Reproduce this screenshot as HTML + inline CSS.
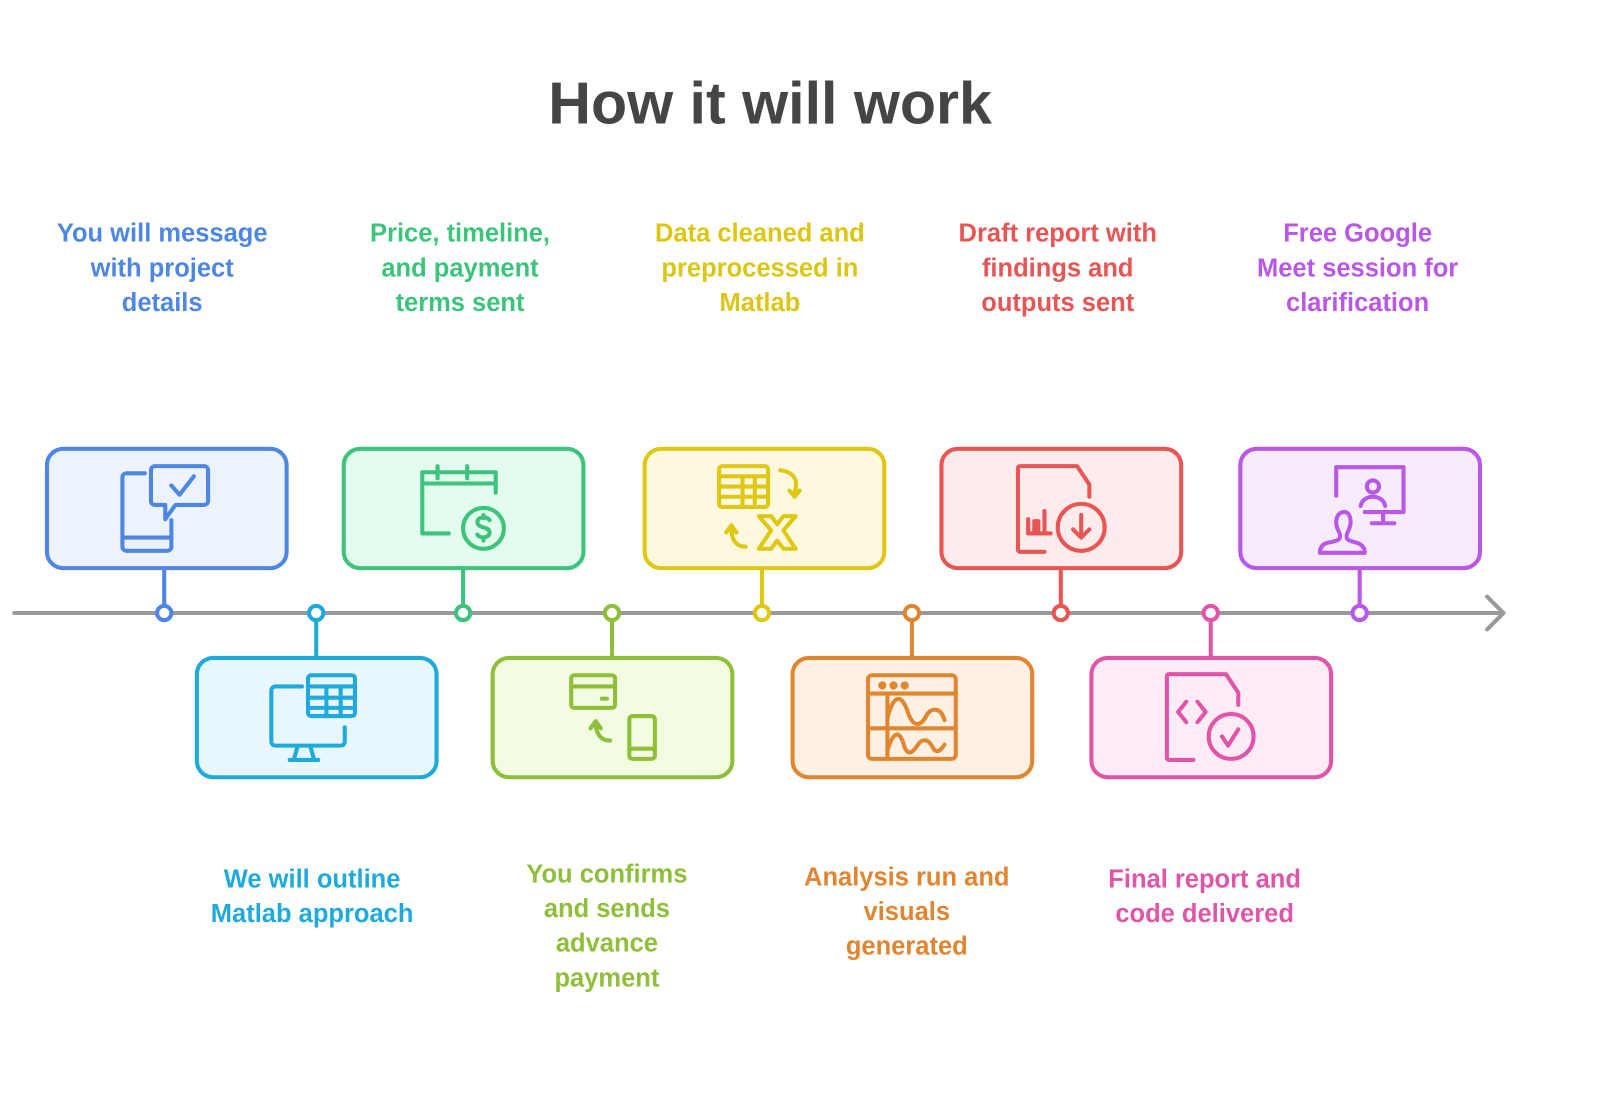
<!DOCTYPE html>
<html><head><meta charset="utf-8"><style>
body{margin:0;width:1600px;height:1107px;background:#fff;font-family:"Liberation Sans",sans-serif;overflow:hidden}
#w{position:absolute;left:0;top:0;width:1570px;height:1090px;transform:scale(1.02);transform-origin:0 0}
.t{position:absolute;font-weight:bold;font-size:25px;line-height:34px;text-align:center;width:260px}
h1{position:absolute;left:0;width:1510px;top:68px;margin:0;text-align:center;font-size:58px;color:#454545}
</style></head><body><div id="w">
<h1>How it will work</h1>
<div class="t" style="left:29px;top:212px;color:#4e86e4">You will message<br>with project<br>details</div>
<div class="t" style="left:321px;top:212px;color:#3cc47c">Price, timeline,<br>and payment<br>terms sent</div>
<div class="t" style="left:615px;top:212px;color:#dcc614">Data cleaned and<br>preprocessed in<br>Matlab</div>
<div class="t" style="left:907px;top:212px;color:#e85555">Draft report with<br>findings and<br>outputs sent</div>
<div class="t" style="left:1201px;top:212px;color:#b857e8">Free Google<br>Meet session for<br>clarification</div>
<div class="t" style="left:176px;top:845px;color:#1eaadc">We will outline<br>Matlab approach</div>
<div class="t" style="left:465px;top:840px;color:#8fbf3a">You confirms<br>and sends<br>advance<br>payment</div>
<div class="t" style="left:759px;top:843px;color:#e08530">Analysis run and<br>visuals<br>generated</div>
<div class="t" style="left:1051px;top:845px;color:#e055a8">Final report and<br>code delivered</div>
<svg width="1570" height="1090" style="position:absolute;left:0;top:0" fill="none" stroke-width="4" stroke-linecap="round" stroke-linejoin="round">
<line x1="14" y1="601" x2="1474" y2="601" stroke="#999" stroke-width="4"/>
<polyline points="1458,585 1474,601 1458,617" stroke="#999"/>
<g stroke="#4e86e4"><rect x="46" y="440" width="235" height="117" rx="16" fill="#edf3fe"/><line x1="161" y1="557" x2="161" y2="594"/><circle cx="161" cy="601" r="7" fill="#fff"/>
<path d="M142 464h-18a4 4 0 0 0-4 4v68a4 4 0 0 0 4 4h40a4 4 0 0 0 4-4v-26M120 527h48"/><path d="M152 457h48a4 4 0 0 1 4 4v30a4 4 0 0 1-4 4h-28l-10 14v-14h-10a4 4 0 0 1-4-4v-30a4 4 0 0 1 4-4z"/><polyline points="168,476 176,485 190,467"/></g>
<g stroke="#1eaadc"><rect x="193" y="645" width="235" height="117" rx="16" fill="#e8f7fd"/><line x1="310" y1="608" x2="310" y2="645"/><circle cx="310" cy="601" r="7" fill="#fff"/>
<path d="M296 673h-26a4 4 0 0 0-4 4v50a4 4 0 0 0 4 4h64a4 4 0 0 0 4-4v-14M292 731l-4 14M304 731l4 14M284 745h28"/><rect x="302" y="662" width="46" height="40" rx="3"/><path d="M302 673h46M302 684h46M302 694h46M320 673v29M334 673v29"/></g>
<g stroke="#3cc47c"><rect x="337" y="440" width="235" height="117" rx="16" fill="#e3fcee"/><line x1="454" y1="557" x2="454" y2="594"/><circle cx="454" cy="601" r="7" fill="#fff"/>
<path d="M440 523h-26v-60h72v20M414 474h72M429 457v12M458 457v12"/><circle cx="474" cy="518" r="20"/><path d="M480 510c-2-4-12-4-12 2s12 4 12 10-10 6-12 2M474 505v3M474 527v3"/></g>
<g stroke="#8fbf3a"><rect x="483" y="645" width="235" height="117" rx="16" fill="#f2fce0"/><line x1="600" y1="608" x2="600" y2="645"/><circle cx="600" cy="601" r="7" fill="#fff"/>
<rect x="560" y="662" width="43" height="32" rx="3"/><path d="M560 673h43M590 685h5"/><rect x="617" y="702" width="25" height="42" rx="3"/><path d="M617 734h25M598 726c-10 0-14-8-14-18M579 714l5-7 5 7"/></g>
<g stroke="#dec814"><rect x="632" y="440" width="235" height="117" rx="16" fill="#fef9de"/><line x1="747" y1="557" x2="747" y2="594"/><circle cx="747" cy="601" r="7" fill="#fff"/>
<rect x="705" y="457" width="48" height="40" rx="3"/><path d="M705 467h48M705 477h48M705 487h48M728 467v30M740 467v30M765 461c14 2 18 10 14 22M774 481l5 6 5-6M731 536c-10 0-14-8-14-18M712 522l5-7 5 7"/><path d="M744 506h12l6 8 6-8h12l-12 14 12 18h-12l-6-8-6 8h-12l12-18z"/></g>
<g stroke="#e08530"><rect x="777" y="645" width="235" height="117" rx="16" fill="#fef1e3"/><line x1="894" y1="608" x2="894" y2="645"/><circle cx="894" cy="601" r="7" fill="#fff"/>
<rect x="851" y="662" width="86" height="82" rx="4"/><path d="M851 680h86M851 714h86M870 680v64M870 704c6-24 14-24 20-6s14 12 18 4 14-10 18 4M870 736c6-20 12-20 16-6s10 6 14 0 10-6 14 2s8 4 12-2"/><circle cx="865" cy="672" r="2" fill="#e08530"/><circle cx="876" cy="672" r="2" fill="#e08530"/><circle cx="887" cy="672" r="2" fill="#e08530"/></g>
<g stroke="#e85555"><rect x="923" y="440" width="235" height="117" rx="16" fill="#fdeceb"/><line x1="1040" y1="557" x2="1040" y2="594"/><circle cx="1040" cy="601" r="7" fill="#fff"/>
<path d="M1024 541h-24a2 2 0 0 1-2-2v-80a2 2 0 0 1 2-2h56l12 18v12"/><path d="M1008 523v-14M1008 523h22M1014 523v-12h4v12M1024 523v-22"/><circle cx="1060" cy="517" r="23"/><path d="M1060 505v22M1052 519l8 8 8-8"/></g>
<g stroke="#e055a8"><rect x="1070" y="645" width="235" height="117" rx="16" fill="#fdebf6"/><line x1="1187" y1="608" x2="1187" y2="645"/><circle cx="1187" cy="601" r="7" fill="#fff"/>
<path d="M1170 745h-24a2 2 0 0 1-2-2v-80a2 2 0 0 1 2-2h56l12 18v12"/><path d="M1163 688l-8 10 8 10M1174 688l8 10-8 10"/><circle cx="1207" cy="722" r="22"/><polyline points="1198,722 1204,731 1214,715"/></g>
<g stroke="#b857e8"><rect x="1216" y="440" width="235" height="117" rx="16" fill="#f7ecfe"/><line x1="1333" y1="557" x2="1333" y2="594"/><circle cx="1333" cy="601" r="7" fill="#fff"/>
<path d="M1310 486v-28h66v44h-38M1356 502v9M1345 513h22"/><circle cx="1346" cy="477" r="6"/><path d="M1334 496c2-12 22-12 24 0"/><path d="M1318 502c-8 0-10 10-6 18 4 8 2 10-10 12-8 2-8 8-8 10h44c0-4-2-8-8-10-10-2-12-4-8-12 4-8 2-18-4-18z"/></g>
</svg>
</div></body></html>
